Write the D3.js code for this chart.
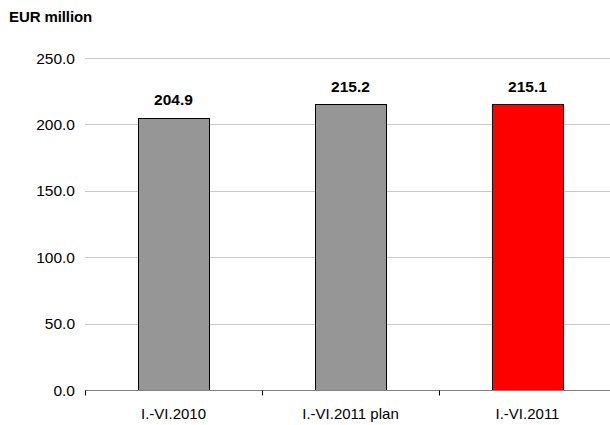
<!DOCTYPE html>
<html>
<head>
<meta charset="utf-8">
<script src="https://cdn.jsdelivr.net/npm/d3@7"></script>
<style>
  html, body { margin: 0; padding: 0; background: #ffffff; }
  svg { display: block; }
  text { font-family: "Liberation Sans", Arial, sans-serif; fill: #000; }
</style>
</head>
<body>
<svg id="chart" width="610" height="425"></svg>
<script>
// Half-year results, EUR million
const categories = ["I.-VI.2010", "I.-VI.2011 plan", "I.-VI.2011"];
const values = [204.9, 215.2, 215.1];
const barColors = ["#969696", "#969696", "#ff0000"];
const yTicks = [0, 50, 100, 150, 200, 250];

const svg = d3.select("#chart");

const x = d3.scaleBand()
  .domain(categories)
  .range([85, 616])
  .paddingInner(0.6)
  .paddingOuter(0.3);

const y = d3.scaleLinear()
  .domain([0, 250])
  .range([390, 58]);

// unit title
svg.append("text")
  .attr("x", 9)
  .attr("y", 22)
  .attr("font-size", 15)
  .attr("font-weight", "bold")
  .attr("letter-spacing", -0.1)
  .text("EUR million");

// horizontal gridlines (excluding the baseline)
svg.append("g")
  .selectAll("line")
  .data(yTicks.filter(d => d > 0))
  .join("line")
  .attr("x1", 85)
  .attr("x2", 610)
  .attr("y1", d => Math.round(y(d)) + 0.5)
  .attr("y2", d => Math.round(y(d)) + 0.5)
  .attr("stroke", "#c8c8c8")
  .attr("stroke-width", 1);

// y tick labels
svg.append("g")
  .selectAll("text")
  .data(yTicks)
  .join("text")
  .attr("x", 75)
  .attr("y", d => y(d))
  .attr("dy", "0.36em")
  .attr("text-anchor", "end")
  .attr("font-size", 15.5)
  .text(d => d3.format(".1f")(d));

// bars
svg.append("g")
  .selectAll("rect")
  .data(values)
  .join("rect")
  .attr("x", (d, i) => Math.round(x(categories[i])) + 0.5)
  .attr("y", d => Math.round(y(d)) + 0.5)
  .attr("width", Math.round(x.bandwidth()))
  .attr("height", d => Math.round(y(0)) - Math.round(y(d)))
  .attr("fill", (d, i) => barColors[i])
  .attr("stroke", "#000")
  .attr("stroke-width", 1);

// value labels
svg.append("g")
  .selectAll("text")
  .data(values)
  .join("text")
  .attr("x", (d, i) => x(categories[i]) + x.bandwidth() / 2)
  .attr("y", d => y(d) - 12.5)
  .attr("text-anchor", "middle")
  .attr("font-size", 15.5)
  .attr("font-weight", "bold")
  .text(d => d3.format(".1f")(d));

// category axis
const gx = svg.append("g")
  .attr("transform", `translate(0,${Math.round(y(0)) + 0.5})`);

gx.append("line")
  .attr("x1", 85)
  .attr("x2", 610)
  .attr("stroke", "#808080")
  .attr("stroke-width", 1);

// tick marks between categories
const step = x.step();
gx.selectAll("line.tick")
  .data(d3.range(categories.length + 1))
  .join("line")
  .attr("class", "tick")
  .attr("x1", i => Math.round(85 + i * step) + 0.5)
  .attr("x2", i => Math.round(85 + i * step) + 0.5)
  .attr("y1", 0)
  .attr("y2", 5)
  .attr("stroke", "#000")
  .attr("stroke-width", 1);

gx.selectAll("text.cat")
  .data(categories)
  .join("text")
  .attr("class", "cat")
  .attr("x", d => x(d) + x.bandwidth() / 2)
  .attr("y", 28.5)
  .attr("text-anchor", "middle")
  .attr("font-size", 15)
  .text(d => d);
</script>
</body>
</html>
